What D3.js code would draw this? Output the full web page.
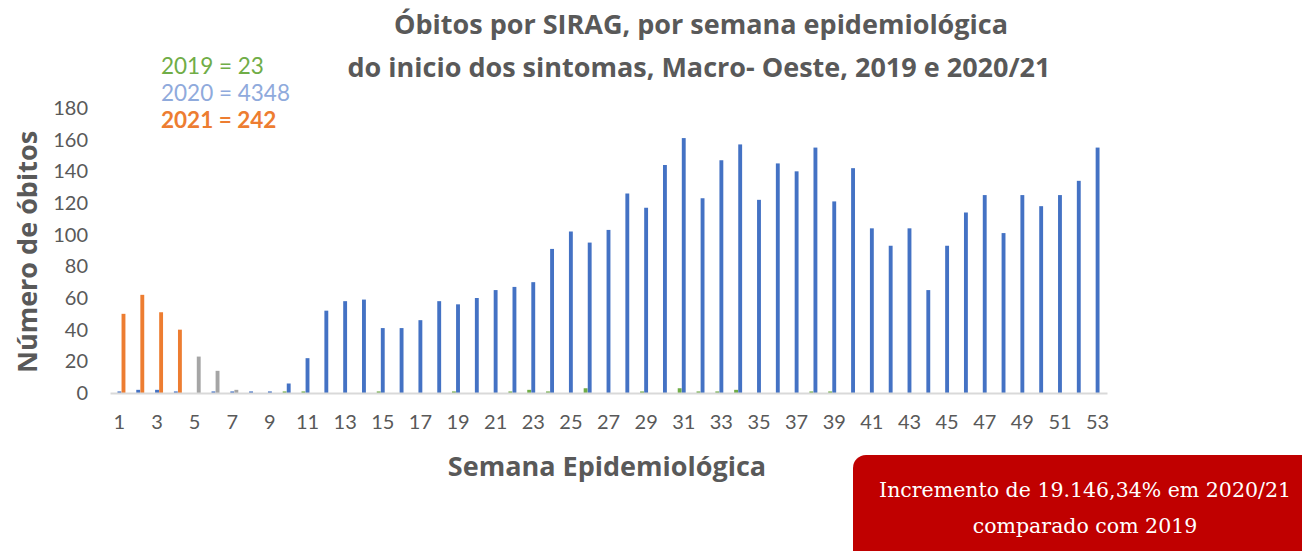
<!DOCTYPE html>
<html>
<head>
<meta charset="utf-8">
<script src="https://cdn.jsdelivr.net/npm/d3@7"></script>
<style>
  body { margin: 0; background: #fff; }
  svg { display: block; }
</style>
</head>
<body>
<div id="chart"></div>
<script>
// Semanas epidemiológicas 1..53
const semanas = d3.range(1, 54);
const series = ["2019", "2020", "2021"];

// Óbitos por semana
const obitos2019 = [0,0,0,0,0,0,0,0,0,1, 1,0,0,0,1,0,0,0,1,0,
                    0,1,2,1,0,3,0,0,1,0, 3,1,1,2,0,0,0,1,1,0,
                    0,0,0,0,0,0,0,0,0,0, 0,0,0];
const obitos2020 = [1,2,2,1,0,1,1,1,1,6, 22,52,58,59,41,41,46,58,56,60,
                    65,67,70,91,102,95,103,126,117,144, 161,123,147,157,122,145,140,155,121,142,
                    104,93,104,65,93,114,125,101,125,118, 125,134,155];
const obitos2021 = [50,62,51,40,23,14,2];
// semanas de 2021 com dados ainda incompletos (barras cinza)
const semanas2021Incompletas = [5, 6, 7];

const totais = [
  {label: "2019 = 23", cor: "#70ad47", peso: "normal"},
  {label: "2020 = 4348", cor: "#8faadc", peso: "normal"},
  {label: "2021 = 242", cor: "#ed7d31", peso: "bold"}
];

const yTicks = d3.range(0, 181, 20);
const xTicks = semanas.filter(d => d % 2 === 1);

const width = 1302, height = 551;
const svg = d3.select("#chart").append("svg")
  .attr("width", width)
  .attr("height", height);

const cores = {"2019": "#70ad47", "2020": "#4472c4", "2021": "#ed7d31"};
const corIncompleta = "#a5a5a5";
const cinzaTexto = "#595959";

const x0 = d3.scaleBand()
  .domain(semanas)
  .range([110, 1107])
  .paddingInner(0.36)
  .paddingOuter(0.18);

const x1 = d3.scaleBand()
  .domain(series)
  .range([0, x0.bandwidth()])
  .paddingInner(0.05);

const y = d3.scaleLinear()
  .domain([0, 180])
  .range([393, 108]);

// dados agrupados
const valores = {"2019": obitos2019, "2020": obitos2020, "2021": obitos2021};
const barras = [];
series.forEach(s => {
  valores[s].forEach((v, i) => {
    const semana = semanas[i];
    let cor = cores[s];
    if (s === "2021" && semanas2021Incompletas.includes(semana)) cor = corIncompleta;
    barras.push({serie: s, semana: semana, valor: v, cor: cor});
  });
});

svg.append("g")
  .selectAll("rect")
  .data(barras.filter(d => d.valor > 0))
  .join("rect")
  .attr("x", d => x0(d.semana) + x1(d.serie))
  .attr("width", x1.bandwidth())
  .attr("y", d => y(d.valor))
  .attr("height", d => y(0) - y(d.valor))
  .attr("fill", d => d.cor);

// Eixo X
const xAxis = svg.append("g")
  .attr("transform", `translate(0,${y(0)})`)
  .call(d3.axisBottom(x0).tickValues(xTicks).tickSize(0).tickPadding(22));
xAxis.select(".domain").attr("stroke", "#d9d9d9").attr("stroke-width", 2);
xAxis.selectAll("text")
  .attr("fill", cinzaTexto)
  .style("font-family", "Lato, 'Open Sans', sans-serif")
  .style("font-size", "20px");

// Eixo Y
const yAxis = svg.append("g")
  .attr("transform", "translate(98,0)")
  .call(d3.axisLeft(y).tickValues(yTicks).tickSize(0).tickPadding(10));
yAxis.select(".domain").remove();
yAxis.selectAll("text")
  .attr("fill", cinzaTexto)
  .style("font-family", "Lato, 'Open Sans', sans-serif")
  .style("font-size", "20px");

// Título
const titulo = svg.append("text")
  .attr("text-anchor", "middle")
  .attr("fill", cinzaTexto)
  .style("font-family", "'Open Sans', Lato, sans-serif")
  .style("font-weight", "bold")
  .style("font-size", "27px");
titulo.append("tspan").attr("x", 701).attr("y", 34).text("Óbitos por SIRAG, por semana epidemiológica");
titulo.append("tspan").attr("x", 699).attr("y", 77).text("do inicio dos sintomas, Macro- Oeste, 2019 e 2020/21");

// Totais por ano
svg.append("g")
  .selectAll("text")
  .data(totais)
  .join("text")
  .attr("x", 161)
  .attr("y", (d, i) => 74 + i * 27)
  .attr("fill", d => d.cor)
  .style("font-weight", d => d.peso)
  .style("font-family", "Lato, 'Open Sans', sans-serif")
  .style("font-size", "22.5px")
  .text(d => d.label);

// Rótulos dos eixos
svg.append("text")
  .attr("x", 607)
  .attr("y", 476)
  .attr("text-anchor", "middle")
  .attr("fill", cinzaTexto)
  .style("font-family", "'Open Sans', Lato, sans-serif")
  .style("font-weight", "bold")
  .style("font-size", "27px")
  .text("Semana Epidemiológica");

svg.append("text")
  .attr("transform", "translate(37,252) rotate(-90)")
  .attr("text-anchor", "middle")
  .attr("fill", cinzaTexto)
  .style("font-family", "'Open Sans', Lato, sans-serif")
  .style("font-weight", "bold")
  .style("font-size", "27px")
  .text("Número de óbitos");

// Caixa de destaque
svg.append("rect")
  .attr("x", 853)
  .attr("y", 455)
  .attr("width", 470)
  .attr("height", 120)
  .attr("rx", 13)
  .attr("fill", "#c00000");

const destaque = svg.append("text")
  .attr("text-anchor", "middle")
  .attr("fill", "#fff")
  .style("font-family", "'DejaVu Serif', 'Liberation Serif', serif")
  .style("font-size", "20.5px");
destaque.append("tspan").attr("x", 1085).attr("y", 497).text("Incremento de 19.146,34% em 2020/21");
destaque.append("tspan").attr("x", 1085).attr("y", 533).text("comparado com 2019");
</script>
</body>
</html>
